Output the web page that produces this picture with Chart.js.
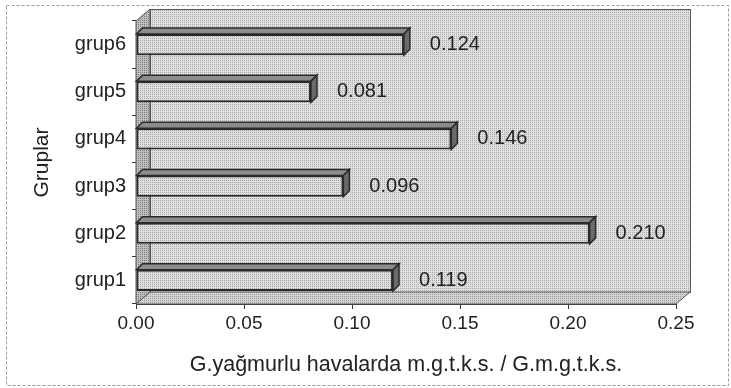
<!DOCTYPE html>
<html>
<head>
<meta charset="utf-8">
<script src="https://cdn.jsdelivr.net/npm/chart.js@4/dist/chart.umd.min.js"></script>
<style>
  html, body { margin: 0; padding: 0; background: #fff; }
  #wrap { width: 731px; height: 388px; position: relative; }
</style>
</head>
<body>
<div id="wrap"><canvas id="chart-canvas" width="731" height="388"></canvas></div>
<script>
const groups = ["grup6", "grup5", "grup4", "grup3", "grup2", "grup1"];
const ratios = [0.124, 0.081, 0.146, 0.096, 0.210, 0.119];
const xTicks = [0, 0.05, 0.1, 0.15, 0.2, 0.25];
const xTitle = "G.yağmurlu havalarda m.g.t.k.s. / G.m.g.t.k.s.";
const yTitle = "Gruplar";

const FONT = "'Liberation Sans', Arial, sans-serif";
const WALL_DX = 14;
const WALL_DY = -12;
const BAR_D = 6;

// little halftone-ish tile, the scan is dotted
function dots(base, dot) {
  const c = document.createElement("canvas");
  c.width = 2;
  c.height = 2;
  const g = c.getContext("2d");
  g.fillStyle = base;
  g.fillRect(0, 0, 2, 2);
  g.fillStyle = dot;
  g.fillRect(0, 0, 1, 1);
  return g.createPattern(c, "repeat");
}

const ctx = document.getElementById("chart-canvas").getContext("2d");
const backFill = dots("#e0e0e0", "#a8a8a8");
const sideFill = dots("#c0c0c0", "#7a7a7a");
const floorFill = dots("#d4d4d4", "#9a9a9a");
const barFill = dots("#e0e0e0", "#a4a4a4");

// grey 3D walls behind the bars + the outer dashed frame
const wallsPlugin = {
  id: "walls",
  beforeDatasetsDraw(chart) {
    const { ctx, chartArea: a } = chart;
    const l = a.left, r = a.right, t = a.top, b = a.bottom;
    ctx.save();
    ctx.lineWidth = 1;
    ctx.strokeStyle = "#555";
    // back wall
    ctx.fillStyle = backFill;
    ctx.fillRect(l + WALL_DX, t + WALL_DY, r - l, b - t);
    ctx.strokeRect(l + WALL_DX + 0.5, t + WALL_DY + 0.5, r - l, b - t);
    // side wall
    ctx.fillStyle = sideFill;
    ctx.beginPath();
    ctx.moveTo(l, t);
    ctx.lineTo(l + WALL_DX, t + WALL_DY);
    ctx.lineTo(l + WALL_DX, b + WALL_DY);
    ctx.lineTo(l, b);
    ctx.closePath();
    ctx.fill();
    ctx.stroke();
    // floor
    ctx.fillStyle = floorFill;
    ctx.beginPath();
    ctx.moveTo(l, b);
    ctx.lineTo(l + WALL_DX, b + WALL_DY);
    ctx.lineTo(r + WALL_DX, b + WALL_DY);
    ctx.lineTo(r, b);
    ctx.closePath();
    ctx.fill();
    ctx.stroke();
    ctx.restore();
  },
  afterDatasetsDraw(chart) {
    const { ctx } = chart;
    const meta = chart.getDatasetMeta(0);
    ctx.save();
    meta.data.forEach((bar, i) => {
      const x0 = bar.base, x1 = bar.x;
      const y0 = bar.y - bar.height / 2, y1 = bar.y + bar.height / 2;
      ctx.lineWidth = 1.5;
      ctx.strokeStyle = "#2a2a2a";
      // top face
      ctx.fillStyle = "#8c8c8c";
      ctx.beginPath();
      ctx.moveTo(x0, y0);
      ctx.lineTo(x0 + BAR_D, y0 - BAR_D);
      ctx.lineTo(x1 + BAR_D, y0 - BAR_D);
      ctx.lineTo(x1, y0);
      ctx.closePath();
      ctx.fill();
      ctx.stroke();
      // right face
      ctx.fillStyle = "#6a6a6a";
      ctx.beginPath();
      ctx.moveTo(x1, y0);
      ctx.lineTo(x1 + BAR_D, y0 - BAR_D);
      ctx.lineTo(x1 + BAR_D, y1 - BAR_D);
      ctx.lineTo(x1, y1);
      ctx.closePath();
      ctx.fill();
      ctx.stroke();
      // value label
      ctx.fillStyle = "#222";
      ctx.font = "20px " + FONT;
      ctx.textAlign = "left";
      ctx.textBaseline = "middle";
      ctx.fillText(ratios[i].toFixed(3), x1 + 26, bar.y);
    });
    ctx.restore();
  },
  afterDraw(chart) {
    const { ctx } = chart;
    ctx.save();
    ctx.setLineDash([3, 2]);
    ctx.strokeStyle = "#9a9a9a";
    ctx.lineWidth = 1;
    ctx.strokeRect(6.5, 5.5, 722, 380);
    ctx.restore();
  }
};

new Chart(ctx, {
  type: "bar",
  data: {
    labels: groups,
    datasets: [
      {
        data: ratios,
        backgroundColor: barFill,
        borderColor: "#2a2a2a",
        borderWidth: 2,
        borderSkipped: false,
        categoryPercentage: 1,
        barPercentage: 0.45,
      },
    ],
  },
  options: {
    indexAxis: "y",
    responsive: false,
    animation: false,
    layout: { padding: { left: 30, right: 55, top: 21, bottom: 10 } },
    plugins: {
      legend: { display: false },
      tooltip: { enabled: false },
    },
    scales: {
      x: {
        min: 0,
        max: 0.25,
        afterBuildTicks(scale) {
          scale.ticks = xTicks.map((v) => ({ value: v }));
        },
        afterFit(scale) {
          scale.height = 388 - 304 - 10;
        },
        ticks: {
          color: "#222",
          font: { family: FONT, size: 19 },
          padding: 3,
          callback: (v) => Number(v).toFixed(2),
        },
        grid: {
          drawOnChartArea: false,
          color: "#333",
          tickLength: 5,
        },
        border: { color: "#333", width: 1 },
        title: {
          display: true,
          text: xTitle,
          color: "#222",
          font: { family: FONT, size: 21.5 },
          padding: { top: 0, bottom: 0 },
        },
      },
      y: {
        afterFit(scale) {
          scale.width = 136 - 30;
        },
        ticks: {
          color: "#222",
          font: { family: FONT, size: 20 },
          padding: 6,
        },
        grid: {
          drawOnChartArea: false,
          color: "#333",
          tickLength: 4,
          offset: true,
        },
        border: { color: "#333", width: 1 },
        title: {
          display: true,
          text: yTitle,
          color: "#222",
          font: { family: FONT, size: 21 },
          padding: { top: 0, bottom: 0 },
        },
      },
    },
  },
  plugins: [wallsPlugin],
});
</script>
</body>
</html>
